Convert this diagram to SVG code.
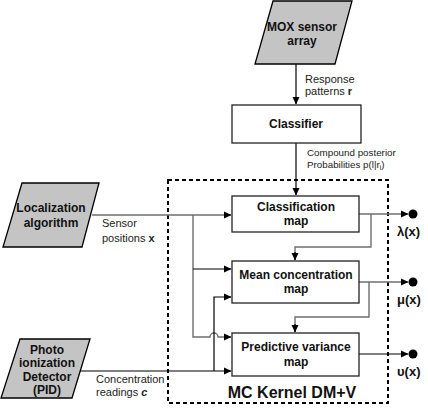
<svg xmlns="http://www.w3.org/2000/svg" width="428" height="409" viewBox="0 0 428 409">
<defs>
<marker id="arr" markerUnits="userSpaceOnUse" markerWidth="8" markerHeight="8" refX="7" refY="4" orient="auto" viewBox="0 0 8 8">
<path d="M0,0.5 L7.5,4 L0,7.5 Z" fill="#000"/>
</marker>
</defs>
<style>
.para{fill:#c4c4c4;stroke:#000;stroke-width:1.3}
.box{fill:#fff;stroke:#222;stroke-width:1.3}
.nl{font-family:"Liberation Sans",Arial,sans-serif;font-weight:bold;font-size:12px;text-anchor:middle;fill:#111}
.lb{font-family:"Liberation Sans",Arial,sans-serif;font-size:11px;fill:#222}
.lbs{font-family:"Liberation Sans",Arial,sans-serif;font-size:9.8px;fill:#222}
.out{font-family:"Liberation Sans",Arial,sans-serif;font-weight:bold;font-size:13px;fill:#111}
.g{fill:none;stroke:#6e6e6e;stroke-width:1.4}
.k{fill:none;stroke:#000;stroke-width:1.2}
</style>
<rect id="kernel" x="168" y="180" width="220" height="223" fill="none" stroke="#000" stroke-width="2" stroke-dasharray="4,3"/>
<g id="connectors">
<path class="k" d="M296,64 V104" marker-end="url(#arr)"/>
<path class="k" d="M296,143 V195" marker-end="url(#arr)"/>
<path class="g" d="M92,215 H231" marker-end="url(#arr)"/>
<path class="g" d="M193,215 V337 H210 A4,4 0 0 1 218,337 H231" marker-end="url(#arr)"/>
<path class="k" d="M193,269 H231" marker-end="url(#arr)"/>
<path class="k" d="M78,371 H231" marker-end="url(#arr)"/>
<path class="k" d="M214,371 V297 H231" marker-end="url(#arr)"/>
<path class="g" d="M359,214 H408" marker-end="url(#arr)"/>
<path class="g" d="M371,214 V247 H295 V260" />
<path class="k" d="M295,252 V260" marker-end="url(#arr)"/>
<path class="g" d="M359,282 H408" marker-end="url(#arr)"/>
<path class="g" d="M369,282 V317 H295 V332"/>
<path class="k" d="M295,324 V332" marker-end="url(#arr)"/>
<path class="k" d="M359,354 H408" marker-end="url(#arr)"/>
<circle cx="413" cy="214" r="4.5" fill="#000"/>
<circle cx="413" cy="282" r="4.5" fill="#000"/>
<circle cx="413" cy="354" r="4.5" fill="#000"/>
</g>
<g id="mox">
<polygon class="para" points="273,1 352,1 335,64 255,64"/>
<text class="nl" x="302" y="31">MOX sensor</text>
<text class="nl" x="302" y="45">array</text>
</g>
<text class="lb" x="305" y="83">Response</text>
<text class="lb" x="305" y="95">patterns <tspan font-weight="bold">r</tspan></text>
<g id="classifier">
<rect class="box" x="232" y="105" width="129" height="38"/>
<text class="nl" x="296" y="128">Classifier</text>
</g>
<text class="lbs" x="307" y="156">Compound posterior</text>
<text class="lbs" x="307" y="168">Probabilities p(l|r<tspan font-size="7" dy="2">i</tspan><tspan dy="-2">)</tspan></text>
<g id="localization">
<polygon class="para" points="22,183 99,183 82,247 3,247"/>
<text class="nl" x="51" y="212">Localization</text>
<text class="nl" x="51" y="227">algorithm</text>
</g>
<text class="lb" x="102" y="227">Sensor</text>
<text class="lb" x="102" y="242">positions <tspan font-weight="bold">x</tspan></text>
<g id="pid">
<polygon class="para" points="20,339 90,339 72,398 1,398"/>
<text class="nl" x="47" y="354">Photo</text>
<text class="nl" x="47" y="367">ionization</text>
<text class="nl" x="47" y="381">Detector</text>
<text class="nl" x="47" y="394">(PID)</text>
</g>
<text class="lb" x="96" y="383">Concentration</text>
<text class="lb" x="96" y="396">readings <tspan font-weight="bold" font-style="italic">c</tspan></text>
<g id="classmap">
<rect class="box" x="232" y="196" width="127" height="36"/>
<text class="nl" x="296" y="211">Classification</text>
<text class="nl" x="296" y="225">map</text>
</g>
<g id="meanmap">
<rect class="box" x="232" y="261" width="127" height="42"/>
<text class="nl" x="296" y="279">Mean concentration</text>
<text class="nl" x="296" y="293">map</text>
</g>
<g id="varmap">
<rect class="box" x="232" y="333" width="127" height="43"/>
<text class="nl" x="296" y="351">Predictive variance</text>
<text class="nl" x="296" y="366">map</text>
</g>
<text class="out" x="397" y="236">λ(x)</text>
<text class="out" x="397" y="304">μ(x)</text>
<text class="out" x="397" y="376">υ(x)</text>
<text x="292" y="398" font-family="Liberation Sans,Arial,sans-serif" font-weight="bold" font-size="16" text-anchor="middle" fill="#111">MC Kernel DM+V</text>
</svg>
